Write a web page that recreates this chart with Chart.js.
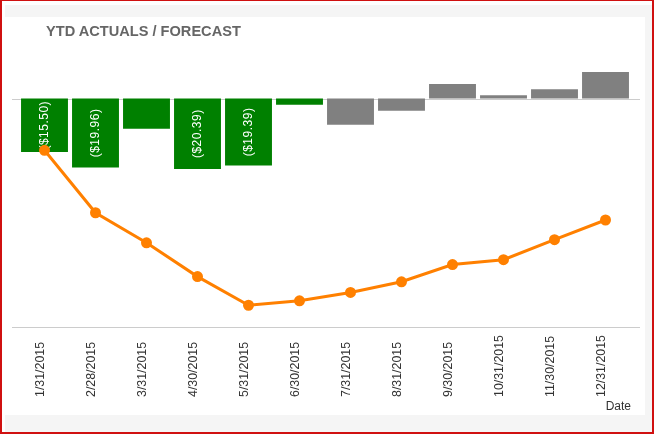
<!DOCTYPE html>
<html>
<head>
<meta charset="utf-8">
<script src="https://cdn.jsdelivr.net/npm/chart.js@4/dist/chart.umd.min.js"></script>
<style>
  body { margin: 0; background: #fff; }
  #frame { position: relative; width: 654px; height: 434px; box-sizing: border-box;
           border: 2px solid #d01010; border-top-width: 1px; background: #fff; overflow: hidden; }
  .band { position: absolute; background: #f5f5f5; }
  #title { position: absolute; left: 44px; top: 22px; font: bold 14.6px "Liberation Sans", Arial, sans-serif;
           color: #666; white-space: nowrap; }
  canvas { position: absolute; left: -2px; top: -1px; }
</style>
</head>
<body>
<div id="frame">
  <div class="band" style="left:3px;top:4px;width:647px;height:12px"></div>
  <div class="band" style="left:643px;top:4px;width:8px;height:428px"></div>
  <div class="band" style="left:3px;top:414px;width:647px;height:18px"></div>
  <canvas id="ytdChart" width="654" height="434"></canvas>
  <div id="title">YTD ACTUALS / FORECAST</div>
</div>
<script>
// values
const dates = ['1/31/2015', '2/28/2015', '3/31/2015', '4/30/2015', '5/31/2015', '6/30/2015',
               '7/31/2015', '8/31/2015', '9/30/2015', '10/31/2015', '11/30/2015', '12/31/2015'];
const monthly = [-15.50, -19.96, -8.76, -20.39, -19.39, -1.84, -7.60, -3.57, 4.20, 0.95, 2.68, 7.67];
const ytd = [-15.0, -33.1, -41.8, -51.6, -59.9, -58.6, -56.2, -53.1, -48.1, -46.7, -40.9, -35.2];
const actualMonths = 6; // first six are actuals (green), rest forecast (grey)
const yMin = -66.2;
const yMax = 10;

const barColors = monthly.map((v, i) => i < actualMonths ? '#008000' : '#808080');
const FONT = '"Liberation Sans", Arial, sans-serif';

function money(v) {
    const s = '$' + Math.abs(v).toFixed(2);
    return v < 0 ? '(' + s + ')' : s;
}

// white rotated labels inside the bars that are tall enough
const barLabels = {
    id: 'barLabels',
    afterDatasetDraw(chart, args) {
        if (args.index !== 0) return;
        const ctx = chart.ctx;
        ctx.save();
        ctx.font = '12px ' + FONT;
        ctx.letterSpacing = '0.5px';
        ctx.fillStyle = '#fff';
        ctx.textAlign = 'center';
        ctx.textBaseline = 'middle';
        args.meta.data.forEach((bar, i) => {
            const text = money(monthly[i]);
            const h = Math.abs(bar.base - bar.y);
            if (h < ctx.measureText(text).width + 4) return;
            ctx.save();
            ctx.translate(bar.x, (bar.y + bar.base) / 2);
            ctx.rotate(-Math.PI / 2);
            ctx.fillText(text, 0, 0);
            ctx.restore();
        });
        ctx.restore();
    }
};

// zero line, bottom axis line and the date labels (bottom-aligned, read upwards)
const axisLines = {
    id: 'axisLines',
    beforeDatasetsDraw(chart) {
        const ctx = chart.ctx;
        const a = chart.chartArea;
        const y0 = Math.round(chart.scales.y.getPixelForValue(0)) + 0.5;
        const yb = Math.round(a.bottom) + 0.5;
        ctx.save();
        ctx.strokeStyle = '#cccccc';
        ctx.lineWidth = 1;
        ctx.beginPath();
        ctx.moveTo(a.left - 7, y0); ctx.lineTo(a.right + 9, y0);
        ctx.moveTo(a.left - 7, yb); ctx.lineTo(a.right + 9, yb);
        ctx.stroke();

        const x = chart.scales.x;
        ctx.font = '12.4px ' + FONT;
        ctx.fillStyle = '#333';
        ctx.textAlign = 'left';
        ctx.textBaseline = 'middle';
        dates.forEach((d, i) => {
            ctx.save();
            ctx.translate(x.getPixelForTick(i) - 4, a.bottom + 70);
            ctx.rotate(-Math.PI / 2);
            ctx.fillText(d, 0, 0);
            ctx.restore();
        });
        ctx.restore();
    }
};

const chart = new Chart(document.getElementById('ytdChart'), {
    type: 'bar',
    data: {
        labels: dates,
        datasets: [{
            type: 'bar',
            label: 'Monthly',
            data: monthly,
            backgroundColor: barColors,
            barPercentage: 0.92,
            categoryPercentage: 1,
            order: 1
        }, {
            type: 'line',
            label: 'YTD',
            data: ytd,
            borderColor: '#ff8000',
            backgroundColor: '#ff8000',
            borderWidth: 3,
            pointRadius: 4,
            pointHoverRadius: 4,
            tension: 0,
            order: 0
        }]
    },
    options: {
        responsive: false,
        animation: false,
        events: [],
        layout: { padding: { left: 19, right: 23, top: 64, bottom: 20 } },
        plugins: { legend: { display: false }, tooltip: { enabled: false } },
        scales: {
            x: {
                grid: { display: false, drawTicks: false },
                border: { display: false },
                ticks: { display: false },
                title: {
                    display: true, text: 'Date', align: 'end', padding: 0,
                    color: '#333', font: { family: FONT, size: 12 }
                },
                afterFit(scale) { scale.height = 87; }
            },
            y: { display: false, min: yMin, max: yMax }
        }
    },
    plugins: [axisLines, barLabels]
});
</script>
</body>
</html>
